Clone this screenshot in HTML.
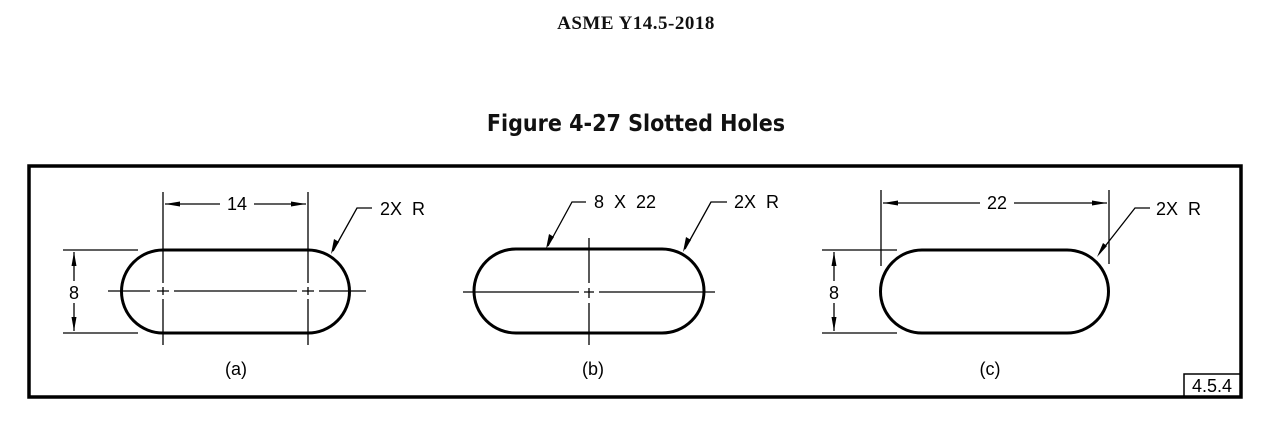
<!DOCTYPE html>
<html><head><meta charset="utf-8"><style>
html,body{margin:0;padding:0;background:#fff;}
svg{display:block;}
.t{font-family:"Liberation Sans",Arial,sans-serif;font-size:18px;fill:#000;}
</style></head><body>
<svg width="1275" height="422" viewBox="0 0 1275 422" xmlns="http://www.w3.org/2000/svg">
<text x="636" y="29" text-anchor="middle" font-family="Liberation Serif,serif" font-weight="bold" font-size="19" letter-spacing="0.5" fill="#111">ASME Y14.5-2018</text>
<text x="636" y="131" text-anchor="middle" font-family="DejaVu Sans Condensed,Liberation Sans Narrow,sans-serif" font-stretch="condensed" font-weight="bold" font-size="23" fill="#111">Figure 4-27 Slotted Holes</text>
<rect x="29" y="166" width="1212" height="231" fill="none" stroke="#000" stroke-width="3.5"/>
<rect x="1184" y="374" width="57" height="23" fill="none" stroke="#000" stroke-width="1.5"/>
<text class="t" x="1212" y="392" text-anchor="middle">4.5.4</text>

<g stroke="#000" fill="none">
<!-- (a) -->
<path d="M163 250 H308 A41.5 41.5 0 0 1 308 333 H163 A41.5 41.5 0 0 1 163 250 Z" stroke-width="3"/>
<line x1="163" y1="192" x2="163" y2="345" stroke-width="1.3" stroke-dasharray="91,4,8,4,200"/>
<line x1="308" y1="192" x2="308" y2="345" stroke-width="1.3" stroke-dasharray="91,4,8,4,200"/>
<line x1="108" y1="291" x2="366" y2="291" stroke-width="1.3" stroke-dasharray="42,7,12,5,123,5,12,5,100"/>
<line x1="165" y1="204" x2="220" y2="204" stroke-width="1.3"/>
<line x1="254" y1="204" x2="306" y2="204" stroke-width="1.3"/>
<line x1="63" y1="250" x2="138" y2="250" stroke-width="1.3"/>
<line x1="63" y1="333" x2="138" y2="333" stroke-width="1.3"/>
<line x1="74" y1="252" x2="74" y2="281" stroke-width="1.3"/>
<line x1="74" y1="303" x2="74" y2="331" stroke-width="1.3"/>
<polyline points="372,208 357,208 333,251" stroke-width="1.3"/>
<!-- (b) -->
<path d="M516 249 H662 A42 42 0 0 1 662 333 H516 A42 42 0 0 1 516 249 Z" stroke-width="3"/>
<line x1="463" y1="292" x2="715" y2="292" stroke-width="1.3" stroke-dasharray="116,5,10,5,200"/>
<line x1="589" y1="238" x2="589" y2="345" stroke-width="1.3" stroke-dasharray="45,5,10,5,100"/>
<polyline points="586,202 572,202 548,246" stroke-width="1.3"/>
<polyline points="727,202 711,202 685,249" stroke-width="1.3"/>
<!-- (c) -->
<path d="M922 250 H1067 A41.5 41.5 0 0 1 1067 333 H922 A41.5 41.5 0 0 1 922 250 Z" stroke-width="3"/>
<line x1="881" y1="190" x2="881" y2="266" stroke-width="1.3"/>
<line x1="1109" y1="190" x2="1109" y2="264" stroke-width="1.3"/>
<line x1="883" y1="203" x2="980" y2="203" stroke-width="1.3"/>
<line x1="1014" y1="203" x2="1107" y2="203" stroke-width="1.3"/>
<line x1="822" y1="250" x2="897" y2="250" stroke-width="1.3"/>
<line x1="822" y1="333" x2="897" y2="333" stroke-width="1.3"/>
<line x1="834" y1="252" x2="834" y2="281" stroke-width="1.3"/>
<line x1="834" y1="303" x2="834" y2="331" stroke-width="1.3"/>
<polyline points="1150,208 1135,208 1099,254" stroke-width="1.3"/>
</g>
<g fill="#000">
<polygon points="165,204 180,201.5 180,206.5"/>
<polygon points="306,204 291,201.5 291,206.5"/>
<polygon points="74,252 71.5,266 76.5,266"/>
<polygon points="74,331 71.5,317 76.5,317"/>
<polygon points="331,254 334,239 339,242"/>
<polygon points="546,249 549,234 554,237"/>
<polygon points="683,252 686,237 691,240"/>
<polygon points="883,203 898,200.5 898,205.5"/>
<polygon points="1107,203 1092,200.5 1092,205.5"/>
<polygon points="834,252 831.5,266 836.5,266"/>
<polygon points="834,331 831.5,317 836.5,317"/>
<polygon points="1097,257 1103,243 1107,246"/>
</g>
<text class="t" x="237" y="210" text-anchor="middle">14</text>
<text class="t" x="380" y="215">2X&#160;&#160;R</text>
<text class="t" x="74" y="299" text-anchor="middle">8</text>
<text class="t" x="236" y="375" text-anchor="middle">(a)</text>
<text class="t" x="594" y="208">8&#160;&#160;X&#160;&#160;22</text>
<text class="t" x="734" y="208">2X&#160;&#160;R</text>
<text class="t" x="593" y="375" text-anchor="middle">(b)</text>
<text class="t" x="997" y="209" text-anchor="middle">22</text>
<text class="t" x="1156" y="215">2X&#160;&#160;R</text>
<text class="t" x="834" y="299" text-anchor="middle">8</text>
<text class="t" x="990" y="375" text-anchor="middle">(c)</text>
</svg>
</body></html>
